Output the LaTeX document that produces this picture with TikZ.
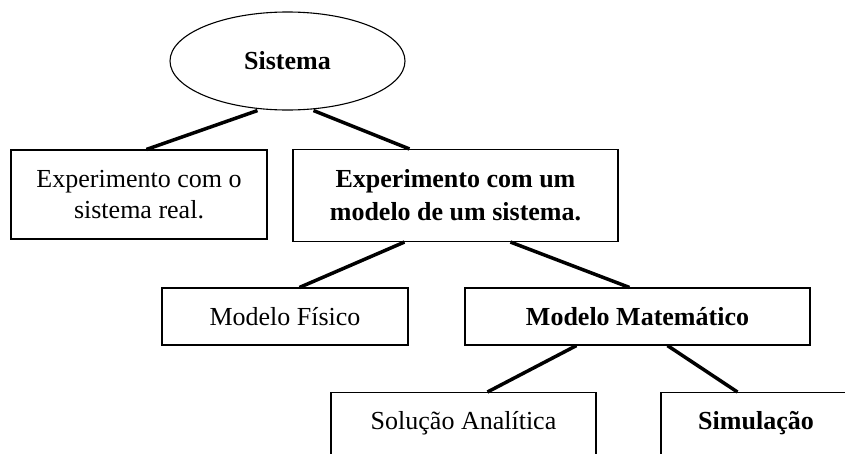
\documentclass[tikz,border=0pt]{standalone}
\usepackage{fontspec}
\setmainfont{Liberation Serif}
\usetikzlibrary{calc,shapes.geometric}

\begin{document}
\begin{tikzpicture}[x=1pt,y=-1pt,
  box/.style={draw,line width=1.1pt,inner sep=0pt,align=center,font=\fontsize{26}{31}\selectfont},
  strong/.style={font=\fontsize{26}{33}\selectfont\bfseries},
  cutbox/.style={box,anchor=north,text height=36.5pt,text depth=40pt},
  link/.style={line width=3.5pt}]

% Frame
\useasboundingbox (0,0) rectangle (845,453);
\fill[white] (0,0) rectangle (845,453);
\clip (0,0) rectangle (845,453);

% Top
\node[box,strong,ellipse,minimum width=235,minimum height=98] (sys) at (287.5,61) {Sistema};

% Second level
\node[box,minimum width=256,minimum height=89] (real) at (139,194.5) {Experimento com o\\sistema real.};
\node[box,strong,minimum width=325,minimum height=92] (exp) at (455.5,195.5) {Experimento com um\\modelo de um sistema.};

% Third level
\node[box,minimum width=246,minimum height=57] (fis) at (285,316.5) {Modelo Físico};
\node[box,strong,minimum width=345,minimum height=57] (mat) at (637.5,316.5) {Modelo Matemático};

% Bottom level (cut off by the frame)
\node[cutbox,minimum width=265] (sol) at (463.5,392) {Solução Analítica};
\node[cutbox,strong,minimum width=190] (sim) at (756,392) {Simulação};

% Connectors
\draw[link] ($(sys.south)+(-30,0)$) -- ($(real.north west)+(136,0)$);
\draw[link] ($(sys.south)+(26,0)$) -- ($(exp.north west)+(117,0)$);
\draw[link] ($(exp.south west)+(112,0)$) -- ($(fis.north west)+(138,0)$);
\draw[link] ($(exp.south west)+(218,0)$) -- ($(mat.north west)+(165,0)$);
\draw[link] ($(mat.south west)+(112,0)$) -- ($(sol.north west)+(157,0)$);
\draw[link] ($(mat.south west)+(203,0)$) -- ($(sim.north west)+(77,0)$);

\end{tikzpicture}
\end{document}
